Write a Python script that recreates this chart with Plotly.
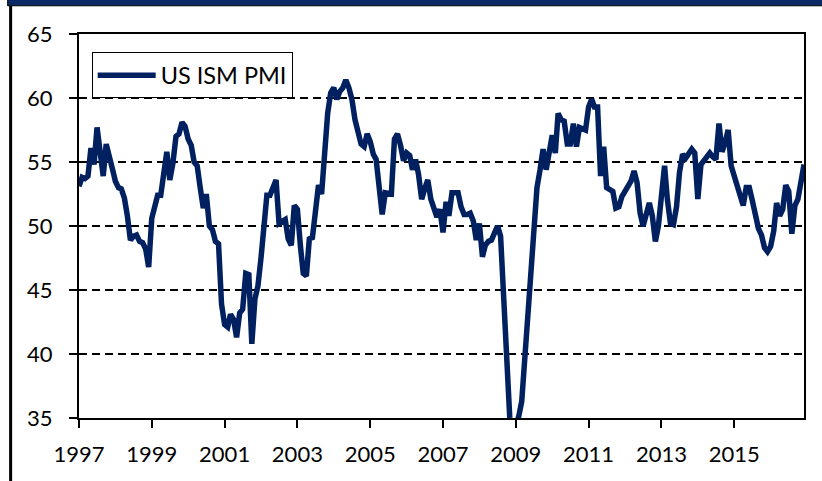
import pandas as pd
import plotly.graph_objects as go

# Monthly US ISM manufacturing PMI, Jan 1997 - Dec 2016
pmi_1997 = [53.1, 53.8, 53.7, 53.9, 56.1, 54.8, 57.7, 56.0, 53.9, 56.4, 55.2, 54.5]
pmi_1998 = [53.5, 53.0, 52.9, 52.2, 50.8, 48.9, 49.2, 49.3, 48.8, 48.7, 48.2, 46.8]
pmi_1999 = [50.6, 51.7, 52.4, 52.4, 54.4, 55.8, 53.6, 54.9, 57.0, 57.2, 58.1, 57.8]
pmi_2000 = [56.8, 56.3, 55.0, 54.7, 53.0, 51.4, 52.5, 50.0, 49.7, 48.8, 48.6, 43.9]
pmi_2001 = [42.3, 42.1, 43.1, 42.7, 41.3, 43.2, 43.5, 46.3, 46.2, 40.8, 44.3, 45.3]
pmi_2002 = [47.5, 50.7, 52.4, 52.4, 53.1, 53.6, 50.2, 50.3, 50.5, 49.0, 48.5, 51.6]
pmi_2003 = [51.3, 48.4, 46.3, 46.1, 49.0, 49.1, 50.8, 53.2, 52.5, 56.3, 58.8, 60.4]
pmi_2004 = [60.8, 59.9, 60.5, 60.8, 61.4, 60.8, 59.9, 58.3, 57.3, 56.4, 56.2, 57.2]
pmi_2005 = [56.6, 55.6, 55.2, 53.0, 50.9, 52.6, 52.6, 52.5, 56.8, 57.2, 56.3, 55.1]
pmi_2006 = [55.7, 55.5, 54.4, 55.2, 54.0, 52.1, 52.9, 53.6, 52.1, 51.4, 50.7, 51.3]
pmi_2007 = [49.5, 51.9, 50.8, 52.6, 52.6, 52.6, 51.5, 50.9, 50.9, 51.0, 50.4, 48.9]
pmi_2008 = [50.2, 47.6, 48.5, 48.8, 48.9, 49.5, 50.0, 49.2, 44.8, 38.8, 35.0, 33.5]
pmi_2009 = [34.2, 35.2, 36.3, 39.5, 42.5, 45.5, 49.5, 53.0, 54.4, 56.0, 54.4, 55.5]
pmi_2010 = [57.1, 55.7, 58.8, 58.3, 58.2, 56.4, 56.4, 58.0, 56.2, 57.7, 57.6, 57.5]
pmi_2011 = [59.3, 59.9, 59.3, 59.3, 53.9, 56.2, 53.0, 52.8, 52.7, 51.4, 51.5, 52.3]
pmi_2012 = [52.7, 53.2, 53.5, 54.3, 53.4, 51.0, 50.0, 50.9, 51.8, 50.8, 48.8, 50.0]
pmi_2013 = [52.6, 54.7, 52.1, 50.2, 50.1, 51.5, 54.2, 55.6, 55.3, 55.7, 56.0, 55.7]
pmi_2014 = [52.1, 54.8, 55.1, 55.4, 55.7, 55.4, 55.2, 58.0, 55.8, 56.5, 57.5, 54.7]
pmi_2015 = [53.8, 53.0, 52.2, 51.6, 53.0, 53.0, 52.0, 51.0, 49.8, 49.3, 48.3, 48.0]
pmi_2016 = [48.4, 49.6, 51.8, 50.8, 51.3, 53.2, 52.7, 49.4, 51.6, 52.1, 53.3, 54.8]

pmi_values = (pmi_1997 + pmi_1998 + pmi_1999 + pmi_2000 + pmi_2001 + pmi_2002 +
              pmi_2003 + pmi_2004 + pmi_2005 + pmi_2006 + pmi_2007 + pmi_2008 +
              pmi_2009 + pmi_2010 + pmi_2011 + pmi_2012 + pmi_2013 + pmi_2014 +
              pmi_2015 + pmi_2016)
months = pd.date_range("1997-01-01", periods=len(pmi_values), freq="MS")

y_ticks = [35, 40, 45, 50, 55, 60, 65]
series_name = "US ISM PMI"

NAVY = "#002060"
FONT = "Lato, 'Open Sans', sans-serif"

fig = go.Figure()
fig.add_trace(go.Scatter(
    x=months, y=pmi_values, mode="lines", name=series_name,
    line=dict(color=NAVY, width=5.5),
))

fig.update_layout(
    width=822, height=481,
    margin=dict(l=79, r=18, t=34, b=63),
    paper_bgcolor="white", plot_bgcolor="white",
    font=dict(family=FONT, size=22, color="black"),
    showlegend=True,
    legend=dict(
        x=0.0175, y=0.952, xanchor="left", yanchor="top",
        bgcolor="white", bordercolor="black", borderwidth=1,
        font=dict(family=FONT, size=23.5, color="black"),
        itemwidth=58,
    ),
    xaxis=dict(
        type="date",
        range=["1997-01-01", "2016-12-01"],
        tick0="1997-01-01", dtick="M24", tickformat="%Y",
        showgrid=False, zeroline=False,
        showline=True, linecolor="black", linewidth=2, mirror=True,
        ticks="outside", ticklen=8, tickwidth=2, tickcolor="black",
        ticklabelstandoff=8,
    ),
    yaxis=dict(
        range=[35, 65], tickvals=y_ticks,
        showgrid=True, gridcolor="black", gridwidth=1.5, griddash="8px,5px",
        zeroline=False,
        showline=True, linecolor="black", linewidth=2, mirror=True,
        ticks="outside", ticklen=8, tickwidth=2, tickcolor="black",
        ticklabelstandoff=12,
    ),
    shapes=[
        # dark navy band across the top of the image
        dict(type="rect", xref="paper", yref="paper",
             x0=-0.0984, x1=1.03, y0=1.0735, y1=1.1,
             fillcolor="#0B2A66", line=dict(color="black", width=1), layer="above"),
        # vertical black rule on the left edge
        dict(type="line", xref="paper", yref="paper",
             x0=-0.0943, x1=-0.0943, y0=1.074, y1=-0.17,
             line=dict(color="black", width=3), layer="above"),
    ],
)

# page body without the browser's default 8px margin, so the figure sits at (0, 0)
fig.write_html("out.html", config={"displayModeBar": False},
               post_script="document.body.style.margin='0px';")
